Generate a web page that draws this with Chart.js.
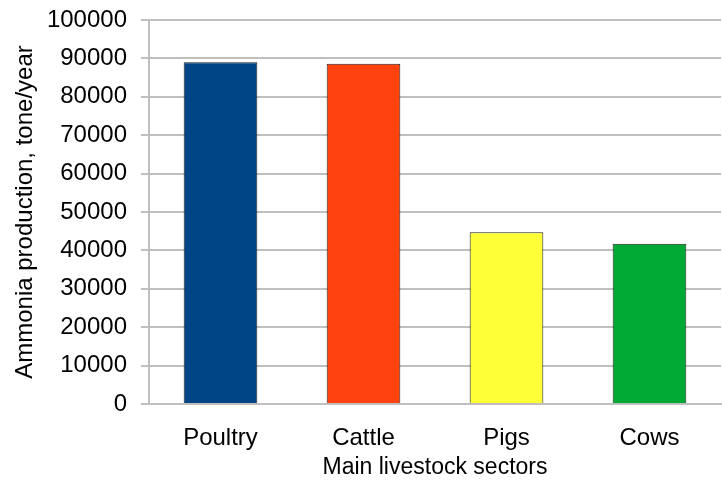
<!DOCTYPE html>
<html>
<head>
<meta charset="utf-8">
<script src="https://cdn.jsdelivr.net/npm/chart.js@4/dist/chart.umd.min.js"></script>
<style>
  html, body { margin: 0; padding: 0; background: #fff; }
  #wrap { width: 722px; height: 483px; position: relative; }
</style>
</head>
<body>
<div id="wrap"><canvas id="chart"></canvas></div>
<script>
// Ammonia production by main livestock sector (tone/year)
const sectors = ["Poultry", "Cattle", "Pigs", "Cows"];
const ammonia = [89000, 88600, 44700, 41700];
const barColors = ["#004586", "#ff420e", "#ffff38", "#00a933"];

const gridColor = "#bfbfbf";
const font = "Liberation Sans, Arial, sans-serif";

new Chart(document.getElementById("chart"), {
  type: "bar",
  data: {
    labels: sectors,
    datasets: [{
      data: ammonia,
      backgroundColor: barColors,
      borderColor: "#222",
      borderWidth: 1,
      categoryPercentage: 1,
      barPercentage: 0.515,
    }],
  },
  options: {
    responsive: true,
    maintainAspectRatio: false,
    animation: false,
    layout: { padding: { top: 0, right: 1, left: 11, bottom: 0 } },
    scales: {
      x: {
        grid: { display: false, drawTicks: false },
        border: { color: gridColor, width: 2 },
        ticks: { color: "#000", padding: 20, font: { family: font, size: 24 } },
        title: {
          display: true,
          text: "Main livestock sectors",
          color: "#000",
          padding: { top: 0, bottom: 2 },
          font: { family: font, size: 23 },
        },
        // keep the plot bottom where the reference has it
        afterFit(scale) { scale.height = 79; },
      },
      y: {
        min: 0,
        max: 100000,
        ticks: {
          stepSize: 10000,
          color: "#000",
          padding: 14,
          font: { family: font, size: 24 },
          callback: (v) => String(v),
        },
        grid: { color: gridColor, lineWidth: 2, tickLength: 8 },
        border: { color: gridColor, width: 2 },
        title: {
          display: true,
          text: "Ammonia production, tone/year",
          color: "#000",
          padding: { top: 0, bottom: 0 },
          font: { family: font, size: 24 },
        },
        afterFit(scale) {
          scale.width = 138;
          scale.paddingTop = 20;
        },
      },
    },
    plugins: {
      legend: { display: false },
      tooltip: { enabled: false },
    },
  },
});
</script>
</body>
</html>
